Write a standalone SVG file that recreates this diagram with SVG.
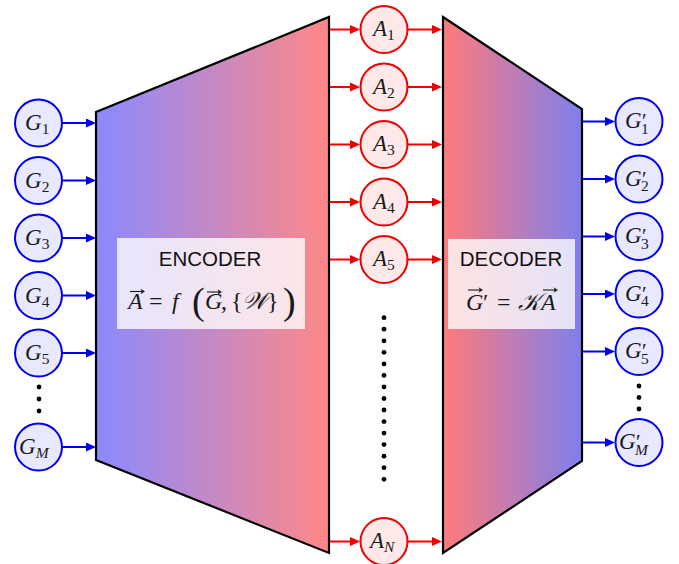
<svg xmlns="http://www.w3.org/2000/svg" width="679" height="564" viewBox="0 0 679 564">
  <style>
    .gnode { fill: #e8e8ff; stroke: #0000ee; stroke-width: 2; }
    .anode { fill: #ffe8e8; stroke: #ee0000; stroke-width: 2; }
    .barrow { stroke: #0000ee; stroke-width: 2; fill: none; marker-end: url(#headBlue); }
    .rarrow { stroke: #ee0000; stroke-width: 2; fill: none; marker-end: url(#headRed); }
    .block { stroke: #000; stroke-width: 2.2; stroke-linejoin: miter; }
    .math { font-family: "Liberation Serif", "DejaVu Serif", serif; font-style: italic; font-size: 23px; fill: #1a1a1a; }
    .eq { font-size: 24px; }
    .rm { font-style: normal; }
    .big { font-style: normal; font-size: 38px; }
    .sub { font-style: normal; font-size: 15.5px; }
    .subi { font-style: italic; font-size: 15.5px; }
    .prime { font-style: normal; font-size: 21px; }
    .caption { font-family: "Liberation Sans", Arial, sans-serif; font-size: 20.5px; fill: #111; text-anchor: middle; }
    .panel { fill: #ffffff; fill-opacity: 0.78; }
    .dot { fill: #000; }
    .vec { stroke: #1a1a1a; stroke-width: 1.1; fill: none; }
    .vechead { fill: #1a1a1a; }
  </style>
  <defs>
    <marker id="headBlue" markerUnits="userSpaceOnUse" markerWidth="10" markerHeight="9" refX="4" refY="4.5" orient="auto">
      <path d="M0,0 L10,4.5 L0,9 z" fill="#0000ee"/>
    </marker>
    <marker id="headRed" markerUnits="userSpaceOnUse" markerWidth="10" markerHeight="9" refX="4" refY="4.5" orient="auto">
      <path d="M0,0 L10,4.5 L0,9 z" fill="#ee0000"/>
    </marker>
    <!-- accent arrow for vector symbols, 15 px long -->
    <g id="vecArrow">
      <path class="vec" d="M0,0 H13"/>
      <path class="vechead" d="M15,0 L10.5,-2.8 L11.8,0 L10.5,2.8 z"/>
    </g>
    <linearGradient id="encFill" gradientUnits="userSpaceOnUse" x1="96" y1="0" x2="329" y2="0">
      <stop offset="0" stop-color="#8a8aff"/>
      <stop offset="1" stop-color="#ff8888"/>
    </linearGradient>
    <linearGradient id="decFill" gradientUnits="userSpaceOnUse" x1="443" y1="0" x2="582" y2="0">
      <stop offset="0" stop-color="#ff7a7a"/>
      <stop offset="1" stop-color="#7f7fee"/>
    </linearGradient>
  </defs>

  <!-- encoder block -->
  <g id="encoder">
    <polygon class="block" points="96,112 329,17 329,553 96,460" fill="url(#encFill)"/>
    <rect class="panel" x="117" y="238" width="188" height="91"/>
    <text class="caption" x="210" y="266">ENCODER</text>
    <text class="math eq" y="309"><tspan x="128">A</tspan><tspan class="rm" x="149">=</tspan><tspan x="172">f</tspan><tspan class="big" x="192" y="314">(</tspan><tspan x="205" y="309">G</tspan><tspan class="rm" x="221">,</tspan><tspan class="rm" x="231">{</tspan><tspan x="242">𝒲</tspan><tspan class="rm" x="267">}</tspan><tspan class="big" x="283" y="314">)</tspan></text>
    <use href="#vecArrow" x="130" y="291.5"/>
    <use href="#vecArrow" x="207" y="292"/>
  </g>

  <!-- decoder block -->
  <g id="decoder">
    <polygon class="block" points="443,17 582,109 582,461 443,553" fill="url(#decFill)"/>
    <rect class="panel" x="448" y="239" width="127" height="90"/>
    <text class="caption" x="511" y="266">DECODER</text>
    <text class="math eq" y="310"><tspan x="466">G</tspan><tspan class="rm" x="483">′</tspan><tspan class="rm" x="497">=</tspan><tspan x="518">𝒦</tspan><tspan x="541">A</tspan></text>
    <use href="#vecArrow" x="468" y="290"/>
    <use href="#vecArrow" x="543" y="290"/>
  </g>

  <!-- input nodes -->
  <g id="g1"><circle class="gnode" cx="38.5" cy="123" r="23.5"/><text class="math" x="25" y="130">G<tspan class="sub" dy="4">1</tspan></text></g>
  <g id="g2"><circle class="gnode" cx="38.5" cy="180.5" r="23.5"/><text class="math" x="25" y="187.5">G<tspan class="sub" dy="4">2</tspan></text></g>
  <g id="g3"><circle class="gnode" cx="38.5" cy="238" r="23.5"/><text class="math" x="25" y="245">G<tspan class="sub" dy="4">3</tspan></text></g>
  <g id="g4"><circle class="gnode" cx="38.5" cy="295.5" r="23.5"/><text class="math" x="25" y="302.5">G<tspan class="sub" dy="4">4</tspan></text></g>
  <g id="g5"><circle class="gnode" cx="38.5" cy="353" r="23.5"/><text class="math" x="25" y="360">G<tspan class="sub" dy="4">5</tspan></text></g>
  <g id="gM"><circle class="gnode" cx="38.5" cy="447" r="23.5"/><text class="math" x="19" y="454">G<tspan class="subi" dy="4">M</tspan></text></g>
  <g id="gdots">
    <circle class="dot" cx="39" cy="387" r="2.4"/>
    <circle class="dot" cx="39" cy="399" r="2.4"/>
    <circle class="dot" cx="39" cy="411" r="2.4"/>
  </g>

  <!-- latent nodes -->
  <g id="a1"><circle class="anode" cx="384" cy="29.5" r="23.5"/><text class="math" x="373" y="36">A<tspan class="sub" dy="4">1</tspan></text></g>
  <g id="a2"><circle class="anode" cx="384" cy="87" r="23.5"/><text class="math" x="373" y="93.5">A<tspan class="sub" dy="4">2</tspan></text></g>
  <g id="a3"><circle class="anode" cx="384" cy="144.5" r="23.5"/><text class="math" x="373" y="151">A<tspan class="sub" dy="4">3</tspan></text></g>
  <g id="a4"><circle class="anode" cx="384" cy="202" r="23.5"/><text class="math" x="373" y="208.5">A<tspan class="sub" dy="4">4</tspan></text></g>
  <g id="a5"><circle class="anode" cx="384" cy="259.5" r="23.5"/><text class="math" x="373" y="266">A<tspan class="sub" dy="4">5</tspan></text></g>
  <g id="aN"><circle class="anode" cx="384" cy="541.5" r="23.5"/><text class="math" x="370" y="548">A<tspan class="subi" dy="4">N</tspan></text></g>
  <g id="adots">
    <circle class="dot" cx="384" cy="317.7" r="2.4"/>
    <circle class="dot" cx="384" cy="329.2" r="2.4"/>
    <circle class="dot" cx="384" cy="340.8" r="2.4"/>
    <circle class="dot" cx="384" cy="352.3" r="2.4"/>
    <circle class="dot" cx="384" cy="363.9" r="2.4"/>
    <circle class="dot" cx="384" cy="375.4" r="2.4"/>
    <circle class="dot" cx="384" cy="386.9" r="2.4"/>
    <circle class="dot" cx="384" cy="398.5" r="2.4"/>
    <circle class="dot" cx="384" cy="410.0" r="2.4"/>
    <circle class="dot" cx="384" cy="421.6" r="2.4"/>
    <circle class="dot" cx="384" cy="433.1" r="2.4"/>
    <circle class="dot" cx="384" cy="444.6" r="2.4"/>
    <circle class="dot" cx="384" cy="456.2" r="2.4"/>
    <circle class="dot" cx="384" cy="467.7" r="2.4"/>
    <circle class="dot" cx="384" cy="479.3" r="2.4"/>
  </g>

  <!-- output nodes: prime above, subscript below -->
  <g id="o1"><circle class="gnode" cx="639" cy="121.5" r="23.5"/><text class="math" x="625" y="128">G<tspan class="prime" x="642" y="128">′</tspan><tspan class="sub" x="641" y="133.5">1</tspan></text></g>
  <g id="o2"><circle class="gnode" cx="639" cy="179" r="23.5"/><text class="math" x="625" y="185.5">G<tspan class="prime" x="642" y="185.5">′</tspan><tspan class="sub" x="641" y="191">2</tspan></text></g>
  <g id="o3"><circle class="gnode" cx="639" cy="236.5" r="23.5"/><text class="math" x="625" y="243">G<tspan class="prime" x="642" y="243">′</tspan><tspan class="sub" x="641" y="248.5">3</tspan></text></g>
  <g id="o4"><circle class="gnode" cx="639" cy="294" r="23.5"/><text class="math" x="625" y="300.5">G<tspan class="prime" x="642" y="300.5">′</tspan><tspan class="sub" x="641" y="306">4</tspan></text></g>
  <g id="o5"><circle class="gnode" cx="639" cy="351.5" r="23.5"/><text class="math" x="625" y="358">G<tspan class="prime" x="642" y="358">′</tspan><tspan class="sub" x="641" y="363.5">5</tspan></text></g>
  <g id="oM"><circle class="gnode" cx="639" cy="442.5" r="23.5"/><text class="math" x="619" y="449">G<tspan class="prime" x="636" y="449">′</tspan><tspan class="subi" x="635" y="454.5">M</tspan></text></g>
  <g id="odots">
    <circle class="dot" cx="639" cy="386" r="2.4"/>
    <circle class="dot" cx="639" cy="397.5" r="2.4"/>
    <circle class="dot" cx="639" cy="409" r="2.4"/>
  </g>

  <!-- connectors -->
  <g id="connectors">
    <line class="barrow" x1="62" y1="123" x2="90" y2="123"/>
    <line class="barrow" x1="62" y1="180.5" x2="90" y2="180.5"/>
    <line class="barrow" x1="62" y1="238" x2="90" y2="238"/>
    <line class="barrow" x1="62" y1="295.5" x2="90" y2="295.5"/>
    <line class="barrow" x1="62" y1="353" x2="90" y2="353"/>
    <line class="barrow" x1="62" y1="447" x2="90" y2="447"/>

    <line class="rarrow" x1="330" y1="29.5" x2="354" y2="29.5"/>
    <line class="rarrow" x1="330" y1="87" x2="354" y2="87"/>
    <line class="rarrow" x1="330" y1="144.5" x2="354" y2="144.5"/>
    <line class="rarrow" x1="330" y1="202" x2="354" y2="202"/>
    <line class="rarrow" x1="330" y1="259.5" x2="354" y2="259.5"/>
    <line class="rarrow" x1="330" y1="541.5" x2="354" y2="541.5"/>

    <line class="rarrow" x1="408" y1="29.5" x2="436" y2="29.5"/>
    <line class="rarrow" x1="408" y1="87" x2="436" y2="87"/>
    <line class="rarrow" x1="408" y1="144.5" x2="436" y2="144.5"/>
    <line class="rarrow" x1="408" y1="202" x2="436" y2="202"/>
    <line class="rarrow" x1="408" y1="259.5" x2="436" y2="259.5"/>
    <line class="rarrow" x1="408" y1="541.5" x2="436" y2="541.5"/>

    <line class="barrow" x1="583" y1="121.5" x2="609" y2="121.5"/>
    <line class="barrow" x1="583" y1="179" x2="609" y2="179"/>
    <line class="barrow" x1="583" y1="236.5" x2="609" y2="236.5"/>
    <line class="barrow" x1="583" y1="294" x2="609" y2="294"/>
    <line class="barrow" x1="583" y1="351.5" x2="609" y2="351.5"/>
    <line class="barrow" x1="583" y1="442.5" x2="609" y2="442.5"/>
  </g>
</svg>
